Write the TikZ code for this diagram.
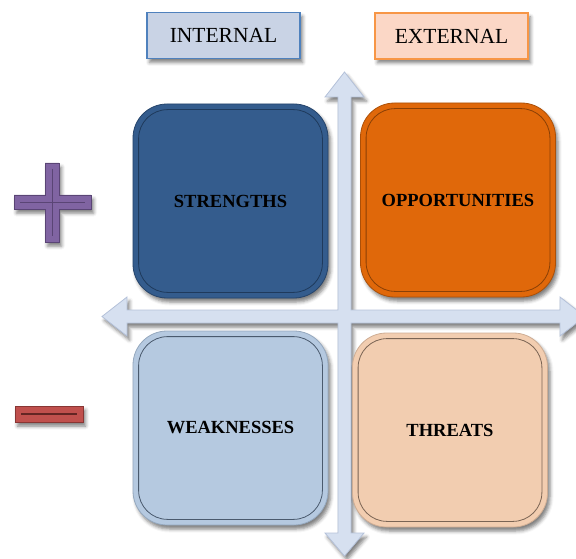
\documentclass[tikz,border=0pt]{standalone}
\usepackage{fontspec}
\setmainfont{Liberation Serif}
\usetikzlibrary{shadows.blur}

\definecolor{hdrBlueFill}{HTML}{C9D3E5}
\definecolor{hdrBlueLine}{HTML}{4F81BD}
\definecolor{hdrOrangeFill}{HTML}{FBD7C6}
\definecolor{hdrOrangeLine}{HTML}{F79646}
\definecolor{strFill}{HTML}{345C8D}
\definecolor{strLine}{HTML}{1F3A5C}
\definecolor{oppFill}{HTML}{E0680A}
\definecolor{oppLine}{HTML}{8A4006}
\definecolor{weaFill}{HTML}{B5C9E0}
\definecolor{weaLine}{HTML}{4A5A6E}
\definecolor{thrFill}{HTML}{F2CDB0}
\definecolor{thrLine}{HTML}{7A6454}
\definecolor{axisFill}{HTML}{D6E0F0}
\definecolor{axisLine}{HTML}{B4C1D9}
\definecolor{plusFill}{HTML}{8064A2}
\definecolor{plusLine}{HTML}{5A4575}
\definecolor{minusFill}{HTML}{C0504D}
\definecolor{minusLine}{HTML}{632523}

\tikzset{
  softshadow/.style={blur shadow={shadow xshift=2.5pt, shadow yshift=-4pt,
      shadow blur radius=3.5pt, shadow opacity=50}},
  header/.style={draw=#1, line width=1.2pt, minimum width=153pt, minimum height=46pt,
      inner sep=0pt, font=\fontsize{21.5}{25}\selectfont, softshadow},
  quad/.style={draw=#1, line width=0.8pt, rounded corners=34pt, minimum width=195pt,
      minimum height=194pt, inner sep=0pt, font=\bfseries\fontsize{18.5}{22}\selectfont,
      softshadow},
  innerline/.style={draw=#1, line width=0.8pt, rounded corners=29pt},
  axis/.style={fill=axisFill, draw=axisLine, line width=0.8pt, line join=miter, softshadow},
}

\newcommand{\innerframe}[2]{%
  \draw[innerline=#2] ([shift={(6pt,-6pt)}]#1.north west) rectangle ([shift={(-6pt,6pt)}]#1.south east);}

\begin{document}
\begin{tikzpicture}[x=1pt, y=-1pt]
\useasboundingbox (0,0) rectangle (576,559);

% axes
\draw[axis] (338,97) -- (325,97) -- (344.5,72) -- (364,97) -- (351,97)
  -- (351,310) -- (560,310) -- (560,297) -- (585,316.5) -- (560,336) -- (560,323)
  -- (351,323) -- (351,533) -- (364,533) -- (344.5,556) -- (325,533) -- (338,533)
  -- (338,323) -- (127,323) -- (127,336) -- (102,316.5) -- (127,297) -- (127,310)
  -- (338,310) -- cycle;

% column headers
\node[header=hdrBlueLine, fill=hdrBlueFill] (internal) at (223.5,35.5) {INTERNAL};
\node[header=hdrOrangeLine, fill=hdrOrangeFill] (external) at (451.5,36) {EXTERNAL};

% quadrants
\node[quad=strLine!70!strFill, fill=strFill] (S) at (230.5,201) {STRENGTHS};
\innerframe{S}{strLine}
\node[quad=oppLine!60!oppFill, fill=oppFill] (O) at (458,200) {OPPORTUNITIES};
\innerframe{O}{oppLine}
\node[quad=weaLine!30!weaFill, fill=weaFill] (W) at (230.5,428) {WEAKNESSES};
\innerframe{W}{weaLine}
\node[quad=thrLine!30!thrFill, fill=thrFill] (T) at (450,430) {THREATS};
\innerframe{T}{thrLine}

% plus sign
\draw[fill=plusFill, draw=plusLine, line width=0.6pt, softshadow]
  (45,163) -- (59,163) -- (59,195) -- (91,195) -- (91,209) -- (59,209) -- (59,242)
  -- (45,242) -- (45,209) -- (14,209) -- (14,195) -- (45,195) -- cycle;
\draw[plusLine, line width=0.8pt] (20,202) -- (85,202) (52,169) -- (52,236);

% minus sign
\draw[fill=minusFill, draw=minusLine!60!minusFill, line width=0.6pt, softshadow]
  (15,406) rectangle (83,422);
\draw[minusLine, line width=1.4pt] (21,414) -- (77,414);
\end{tikzpicture}
\end{document}
